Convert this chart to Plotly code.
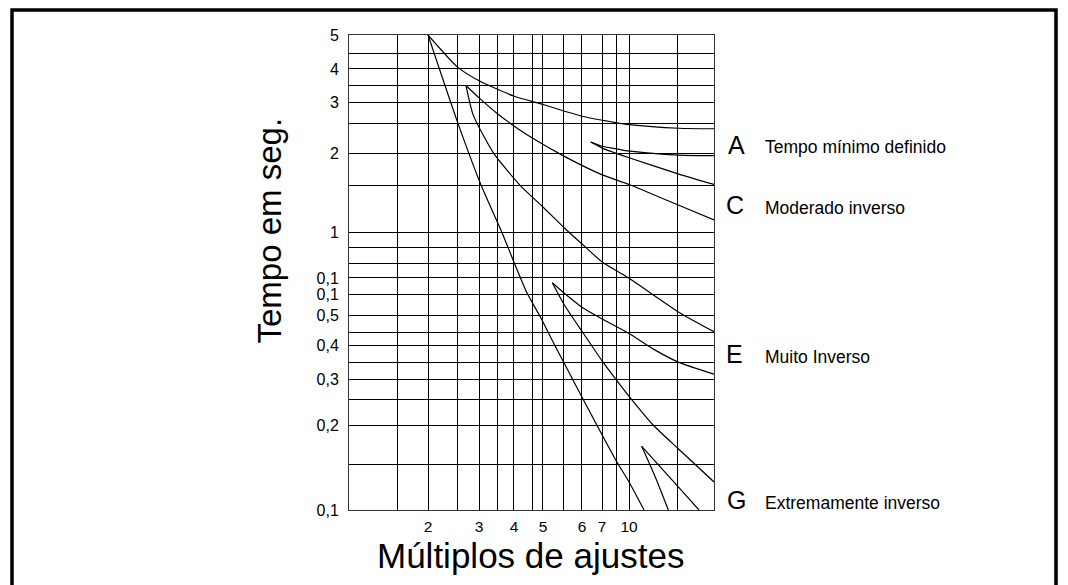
import math
import plotly.graph_objects as go

# ---------------- data ----------------
# vertical grid lines (multiples of setting)
x_grid = [1.56, 2.0, 2.54, 3.01, 3.48, 3.98, 4.6, 5.02, 5.94, 6.86, 8.06, 9.01, 10.0, 14.8]
x_labels = ["", "2", "", "3", "", "4", "", "5", "", "6", "7", "", "10", ""]

# horizontal grid lines (time in seconds)
y_grid = [5.0, 4.31, 3.78, 3.31, 2.86, 2.42, 1.89, 1.45, 0.987, 0.872, 0.759, 0.676,
          0.592, 0.498, 0.430, 0.389, 0.338, 0.292, 0.249, 0.201, 0.146, 0.1]
y_labels = ["5", "", "4", "", "3", "", "2", "", "1", "", "", "0,1",
            "0,1", "0,5", "", "0,4", "", "0,3", "", "0,2", "", "0,1"]

x_min, x_max = 1.062, 19.75
y_min, y_max = 0.1, 5.0

# curves
a_top_x = [2.0, 2.54, 3.01, 3.99, 5.03, 6.88, 8.99, 10.0, 14.9, 19.75]
a_top_y = [5.0, 3.83, 3.43, 3.02, 2.82, 2.56, 2.43, 2.39, 2.32, 2.31]

steep_x = [2.0, 2.54, 3.06, 3.62, 3.99, 4.42, 4.94, 5.49, 5.96, 6.88, 8.99, 10.0, 11.28]
steep_y = [5.0, 2.42, 1.45, 0.979, 0.765, 0.597, 0.486, 0.392, 0.334, 0.252, 0.151, 0.126, 0.1]

c_steep_x = [2.71, 2.87, 3.38, 4.18, 5.03, 5.96, 6.88, 8.07, 10.0, 14.9, 19.75]
c_steep_y = [3.30, 2.59, 1.89, 1.45, 1.21, 1.02, 0.892, 0.771, 0.674, 0.51, 0.434]

c_mod_x = [2.71, 3.01, 3.48, 3.99, 4.61, 5.96, 8.07, 10.0, 14.9, 19.75]
c_mod_y = [3.30, 2.98, 2.62, 2.36, 2.14, 1.84, 1.58, 1.46, 1.23, 1.09]

a_low_x = [7.36, 8.07, 8.99, 10.0, 14.9, 19.75]
a_low_y = [2.07, 2.00, 1.96, 1.92, 1.86, 1.85]

a_low2_x = [7.36, 8.07, 8.99, 10.0, 14.9, 19.75]
a_low2_y = [2.07, 1.97, 1.89, 1.82, 1.59, 1.46]

e_steep_x = [5.41, 5.96, 6.88, 8.07, 8.99, 10.04, 12.15, 14.9, 19.75]
e_steep_y = [0.650, 0.541, 0.434, 0.341, 0.294, 0.254, 0.201, 0.165, 0.126]

e_mod_x = [5.41, 5.96, 6.88, 8.07, 10.0, 12.12, 14.84, 19.75]
e_mod_y = [0.650, 0.596, 0.530, 0.482, 0.428, 0.377, 0.338, 0.306]

g1_x = [11.07, 12.31, 13.70]
g1_y = [0.169, 0.132, 0.1]

g2_x = [11.07, 14.84, 17.51]
g2_y = [0.169, 0.121, 0.1]

curves = [
    (a_top_x, a_top_y), (steep_x, steep_y), (c_steep_x, c_steep_y), (c_mod_x, c_mod_y),
    (a_low_x, a_low_y), (a_low2_x, a_low2_y), (e_steep_x, e_steep_y), (e_mod_x, e_mod_y),
    (g1_x, g1_y), (g2_x, g2_y),
]

side_letters = ["A", "C", "E", "G"]
side_texts = ["Tempo mínimo definido", "Moderado inverso", "Muito Inverso", "Extremamente inverso"]

# ---------------- figure ----------------
FONT = "Liberation Sans, Arial, sans-serif"
fig = go.Figure()
for cx, cy in curves:
    fig.add_trace(go.Scatter(x=cx, y=cy, mode="lines",
                             line=dict(color="black", width=1.2, shape="spline", smoothing=0.6),
                             hoverinfo="skip", showlegend=False))

W, H = 1068, 585
L, R, T, B = 349, 1068 - 714, 35, 585 - 510

fig.update_layout(
    width=W, height=H, autosize=False,
    margin=dict(l=L, r=R, t=T, b=B, pad=0),
    paper_bgcolor="white", plot_bgcolor="white",
    font=dict(family=FONT, color="black"),
    showlegend=False,
)
fig.update_xaxes(
    type="log", range=[math.log10(x_min), math.log10(x_max)],
    tickmode="array", tickvals=x_grid, ticktext=x_labels,
    showgrid=True, gridcolor="black", gridwidth=1,
    showline=True, mirror=True, linecolor="#333", linewidth=1,
    ticks="outside", ticklen=2, tickcolor="rgba(0,0,0,0)",
    tickfont=dict(size=15.5, family=FONT, color="black"),
    zeroline=False, fixedrange=True,
)
fig.update_yaxes(
    type="log", range=[math.log10(y_min), math.log10(y_max)],
    tickmode="array", tickvals=y_grid, ticktext=y_labels,
    showgrid=True, gridcolor="black", gridwidth=1,
    showline=True, mirror=True, linecolor="#333", linewidth=1,
    ticks="outside", ticklen=6, tickcolor="rgba(0,0,0,0)",
    tickfont=dict(size=16, family=FONT, color="black"),
    zeroline=False, fixedrange=True,
)

pw, ph = 714 - 349, 510 - 35

def px(xp):
    return (xp - 349) / pw

def py(yp):
    return (510 - yp) / ph

# axis titles
fig.add_annotation(text="Tempo em seg.", xref="paper", yref="paper", x=px(269), y=py(230.5),
                   textangle=-90, showarrow=False, font=dict(size=33, family=FONT, color="black"),
                   xanchor="center", yanchor="middle")
fig.add_annotation(text="Múltiplos de ajustes", xref="paper", yref="paper", x=px(530), y=py(555.5),
                   showarrow=False, font=dict(size=35, family=FONT, color="black"),
                   xanchor="center", yanchor="middle")

# right-hand labels
letter_pos = [(736, 144.5), (735, 205), (734, 354), (736, 500)]
text_pos = [(763, 147), (763, 207.5), (763, 357), (763, 502.5)]
for letter, txt, (lx, ly), (tx, ty) in zip(side_letters, side_texts, letter_pos, text_pos):
    fig.add_annotation(text=letter, xref="paper", yref="paper", x=px(lx), y=py(ly), showarrow=False,
                       font=dict(size=25, family=FONT, color="black"), xanchor="center", yanchor="middle")
    fig.add_annotation(text=txt, xref="paper", yref="paper", x=px(tx), y=py(ty), showarrow=False,
                       font=dict(size=17.5, family=FONT, color="black"), xanchor="left", yanchor="middle")

# outer frame
fig.add_shape(type="rect", xref="paper", yref="paper", x0=px(12), x1=px(1056), y0=py(600), y1=py(10),
              line=dict(color="black", width=3.5), fillcolor="rgba(0,0,0,0)", layer="above")

fig.write_html("out.html", config={"displayModeBar": False})
